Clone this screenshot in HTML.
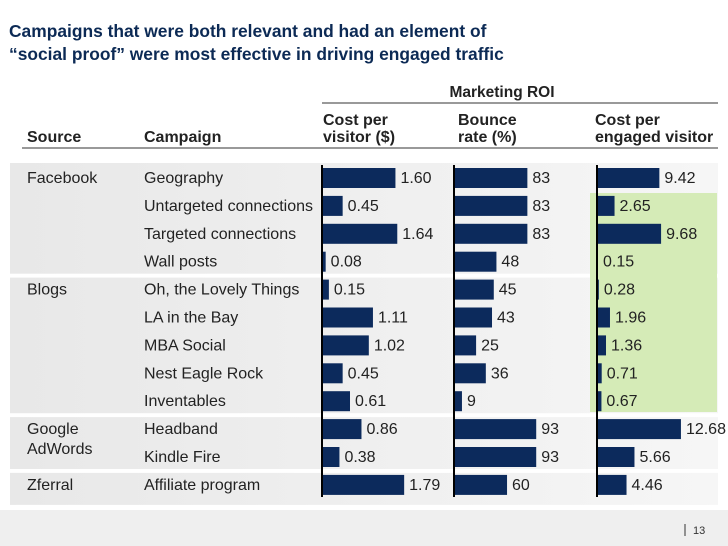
<!DOCTYPE html>
<html><head><meta charset="utf-8"><style>
body{margin:0;background:#fff;}
svg{display:block;font-family:"Liberation Sans",Arial,sans-serif;}
</style></head><body>
<svg id="chart" width="728" height="546" viewBox="0 0 728 546">
<defs><linearGradient id="pg" x1="0" x2="1" y1="0" y2="0"><stop offset="0" stop-color="#e8e8e8"/><stop offset="1" stop-color="#f6f6f6"/></linearGradient></defs>
<text x="9" y="37" font-size="17.4" font-weight="bold" fill="#0c2a55">Campaigns that were both relevant and had an element of</text>
<text x="9" y="60" font-size="17.4" font-weight="bold" fill="#0c2a55">“social proof” were most effective in driving engaged traffic</text>
<g id="panels"></g>
<rect x="590" y="193" width="127" height="219" fill="#d5ebb7"/>
<text x="502" y="97" font-size="15.5" font-weight="bold" fill="#222" text-anchor="middle">Marketing ROI</text>
<line x1="322" y1="103" x2="718" y2="103" stroke="#333" stroke-width="1"/>
<g font-size="16" font-weight="bold" fill="#222">
<text x="27" y="142">Source</text>
<text x="144" y="142">Campaign</text>
<text x="323" y="125">Cost per</text>
<text x="323" y="142">visitor ($)</text>
<text x="458" y="125">Bounce</text>
<text x="458" y="142">rate (%)</text>
<text x="595" y="125">Cost per</text>
<text x="595" y="142">engaged visitor</text>
</g>
<line x1="22" y1="148" x2="718" y2="148" stroke="#333" stroke-width="1"/>
<g id="rows"></g>
<g id="bars"></g>
<rect x="0" y="510" width="728" height="36" fill="#efefef"/>
<line x1="685" y1="524" x2="685" y2="536" stroke="#333" stroke-width="1"/>
<text x="693" y="534" font-size="11" fill="#333">13</text>
</svg>
<script>
const campaigns=["Geography","Untargeted connections","Targeted connections","Wall posts","Oh, the Lovely Things","LA in the Bay","MBA Social","Nest Eagle Rock","Inventables","Headband","Kindle Fire","Affiliate program"];
const costPerVisitor=[1.60,0.45,1.64,0.08,0.15,1.11,1.02,0.45,0.61,0.86,0.38,1.79];
const bounceRate=[83,83,83,48,45,43,25,36,9,93,93,60];
const costPerEngaged=[9.42,2.65,9.68,0.15,0.28,1.96,1.36,0.71,0.67,12.68,5.66,4.46];
const sources=[["Facebook",0,4],["Blogs",4,9],["Google|AdWords",9,11],["Zferral",11,12]];
const NS="http://www.w3.org/2000/svg";
function mk(t,a,p){const e=document.createElementNS(NS,t);for(const k in a)e.setAttribute(k,a[k]);p.appendChild(e);return e;}
const rowY=i=>178+i*27.9;
const panels=document.getElementById('panels'),rows=document.getElementById('rows'),bars=document.getElementById('bars');
sources.forEach(s=>{
  const y0=rowY(s[1])-14+ (s[1]===0?-1:2), y1=rowY(s[2]-1)+14-(s[2]===12?-6:2);
  const r=mk('rect',{x:10,y:y0,width:708,height:y1-y0,fill:'url(#pg)'},panels);
  
  
  const parts=s[0].split('|');
  parts.forEach((p,j)=>{const t=mk('text',{x:27,y:rowY(s[1])+5+j*20,'font-size':16,fill:'#222'},rows);t.textContent=p;
    
    });
});
campaigns.forEach((c,i)=>{const t=mk('text',{x:144,y:rowY(i)+5,'font-size':16,fill:'#222'},rows);t.textContent=c;
  
  });
const cols=[{d:costPerVisitor,x0:322,s:45.9,f:v=>v.toFixed(2),n:'cost-visitor'},{d:bounceRate,x0:454,s:0.884,f:v=>String(v),n:'bounce'},{d:costPerEngaged,x0:597,s:6.62,f:v=>v.toFixed(2),n:'cost-engaged'}];
cols.forEach(c=>{
  c.d.forEach((v,i)=>{
    const w=v*c.s;
    const b=mk('rect',{x:c.x0,y:rowY(i)-10,width:Math.max(w,1),height:20,fill:'#0c2a5c'},bars);
    
    
    const t=mk('text',{x:c.x0+Math.max(w,1)+5,y:rowY(i)+5,'font-size':16,fill:'#222'},bars);
    t.textContent=c.f(v);
    
    
  });
  const ax=mk('line',{x1:c.x0,y1:165,x2:c.x0,y2:497,stroke:'#000','stroke-width':2},bars);
  
  
});
</script>
</body></html>
